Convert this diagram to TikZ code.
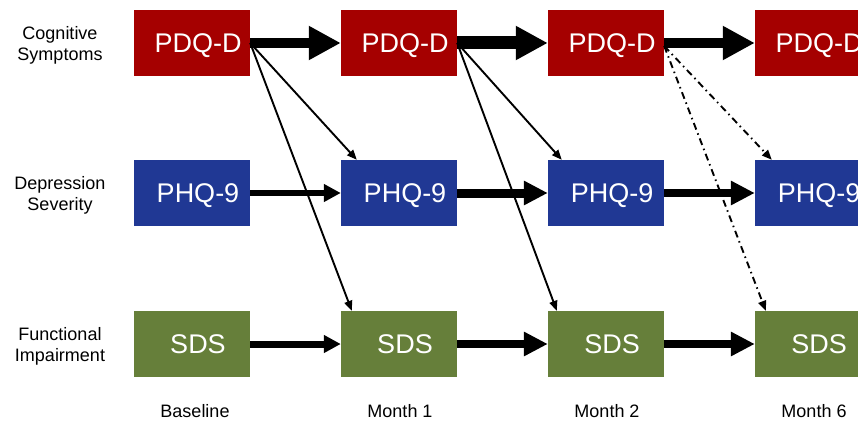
\documentclass[tikz,border=0pt]{standalone}
\usepackage{fontspec}
\setmainfont{Liberation Sans}
\usetikzlibrary{arrows.meta}
\definecolor{pdqred}{RGB}{165,0,0}
\definecolor{phqblue}{RGB}{32,56,148}
\definecolor{sdsgreen}{RGB}{102,127,58}
\tikzset{
	MyBox/.style={minimum width=116pt,minimum height=66pt,inner sep=0pt,
    text=white,font=\fontsize{27}{30}\selectfont,
    text height=19.5pt,text depth=0pt,
    execute at begin node=\hspace*{12pt}},
	MyLabel/.style={align=center,font=\fontsize{18}{21}\selectfont},
	FatArrow/.style={line width=#1,-{Triangle[length=32pt,width=32pt]}},
	MidArrow/.style={line width=#1,-{Triangle[length=24pt,width=23pt]}},
	SlimArrow/.style={line width=#1,-{Triangle[length=17pt,width=17pt]}},
	CrossLag/.style={line width=1.9pt,-{Triangle[length=10pt,width=8pt]}},
	CrossLagDash/.style={CrossLag,dash pattern=on 7pt off 4pt on 1.5pt off 4pt}
		}

\begin{document}
\begin{tikzpicture}[x=1pt,y=1pt]
  \useasboundingbox (0,0) rectangle (858,424);

  % boxes, one column per time point
  \foreach \x/\m in {192/0,399/1,606/2,813/6}{
    \node[MyBox,fill=pdqred]   (pdq\m) at (\x,381) {PDQ-D};
    \node[MyBox,fill=phqblue]  (phq\m) at (\x,231) {PHQ-9};
    \node[MyBox,fill=sdsgreen] (sds\m) at (\x,80)  {SDS};
  }

  % row and column labels
  \node[MyLabel] (cog) at (60,379) {Cognitive\\Symptoms};
  \node[MyLabel] (dep) at (60,229) {Depression\\Severity};
  \node[MyLabel] (fun) at (60,78)  {Functional\\Impairment};
  \node[MyLabel] (t0) at (195,13) {Baseline};
  \node[MyLabel] (t1) at (400,13) {Month 1};
  \node[MyLabel] (t2) at (607,13) {Month 2};
  \node[MyLabel] (t6) at (814,13) {Month 6};

  % autoregressive paths
  \draw[FatArrow=10pt] (pdq0) -- (pdq1);
  \draw[FatArrow=13pt] (pdq1) -- (pdq2);
  \draw[FatArrow=10pt] (pdq2) -- (pdq6);
  \draw[SlimArrow=6pt] (phq0) -- (phq1);
  \draw[MidArrow=9pt]  (phq1) -- (phq2);
  \draw[MidArrow=8pt]  (phq2) -- (phq6);
  \draw[SlimArrow=7pt] (sds0) -- (sds1);
  \draw[MidArrow=8pt]  (sds1) -- (sds2);
  \draw[MidArrow=8pt]  (sds2) -- (sds6);

  % cross-lagged paths
  \draw[CrossLag] (pdq0.east) -- ([xshift=16pt]phq1.north west);
  \draw[CrossLag] (pdq0.east) -- ([xshift=11pt]sds1.north west);
  \draw[CrossLag] (pdq1.east) -- ([xshift=14pt]phq2.north west);
  \draw[CrossLag] (pdq1.east) -- ([xshift=9pt]sds2.north west);
  \draw[CrossLagDash] ([yshift=-3pt]pdq2.east) -- ([xshift=17pt]phq6.north west);
  \draw[CrossLagDash] ([yshift=-3pt]pdq2.east) -- ([xshift=11pt]sds6.north west);
\end{tikzpicture}
\end{document}
